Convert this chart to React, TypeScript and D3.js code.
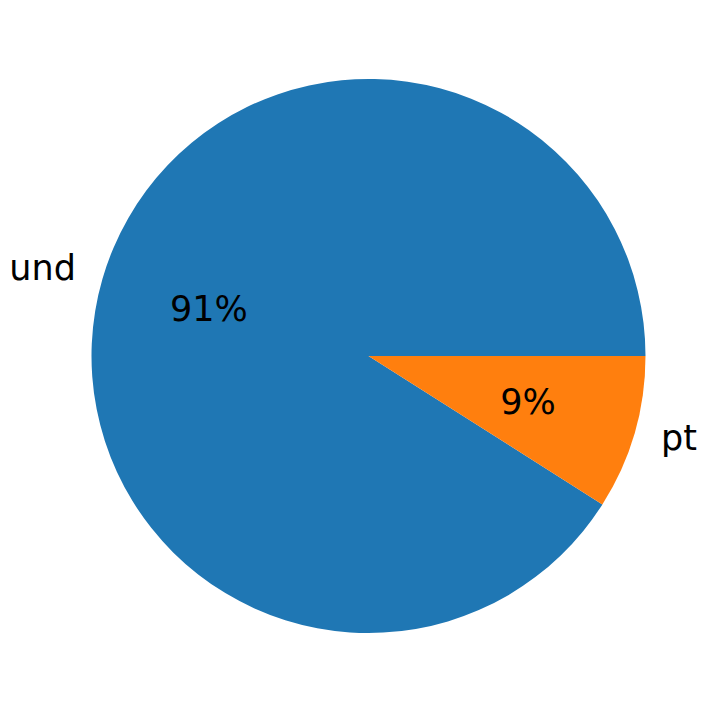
import React from "react";
import * as d3 from "d3";

const categories = ["und", "pt"];
const values = [91, 9];
const colors = ["#1f77b4", "#ff7f0e"];

const W = 725;
const H = 713;
const CX = 368.5;
const CY = 356;
const R = 277;

export default function App() {
  const total = d3.sum(values);
  // matplotlib: start at 3 o'clock, counterclockwise
  const angle = d3.scaleLinear().domain([0, total]).range([0, 2 * Math.PI]);
  let cum = 0;
  const slices = values.map((v, i) => {
    const a0 = angle(cum);
    cum += v;
    const a1 = angle(cum);
    return { i, v, a0, a1 };
  });
  // convert math angle (ccw from +x) to d3 arc angle (cw from 12 o'clock)
  const toD3 = (a: number) => Math.PI / 2 - a;
  const arc = d3.arc<any>().innerRadius(0).outerRadius(R);

  return (
    <svg
      width={W}
      height={H}
      style={{ position: "absolute", left: 0, top: 0, background: "#fff" }}
      fontFamily="DejaVu Sans"
    >
      <g transform={`translate(${CX},${CY})`}>
        {slices.map((s) => (
          <path
            key={s.i}
            d={arc({ startAngle: toD3(s.a1), endAngle: toD3(s.a0) }) as string}
            fill={colors[s.i]}
          />
        ))}
        {slices.map((s) => {
          const mid = (s.a0 + s.a1) / 2;
          const lx = 1.1 * R * Math.cos(mid);
          const ly = -1.1 * R * Math.sin(mid);
          const px = 0.6 * R * Math.cos(mid);
          const py = -0.6 * R * Math.sin(mid);
          const pct = Math.round((s.v / total) * 100) + "%";
          return (
            <g key={"t" + s.i}>
              <text
                x={lx}
                y={ly + 9}
                fontSize={35}
                textAnchor={lx < 0 ? "end" : "start"}
                fill="#000"
              >
                {categories[s.i]}
              </text>
              <text x={px} y={py + 11.5} fontSize={35} textAnchor="middle" fill="#000">
                {pct}
              </text>
            </g>
          );
        })}
      </g>
    </svg>
  );
}
